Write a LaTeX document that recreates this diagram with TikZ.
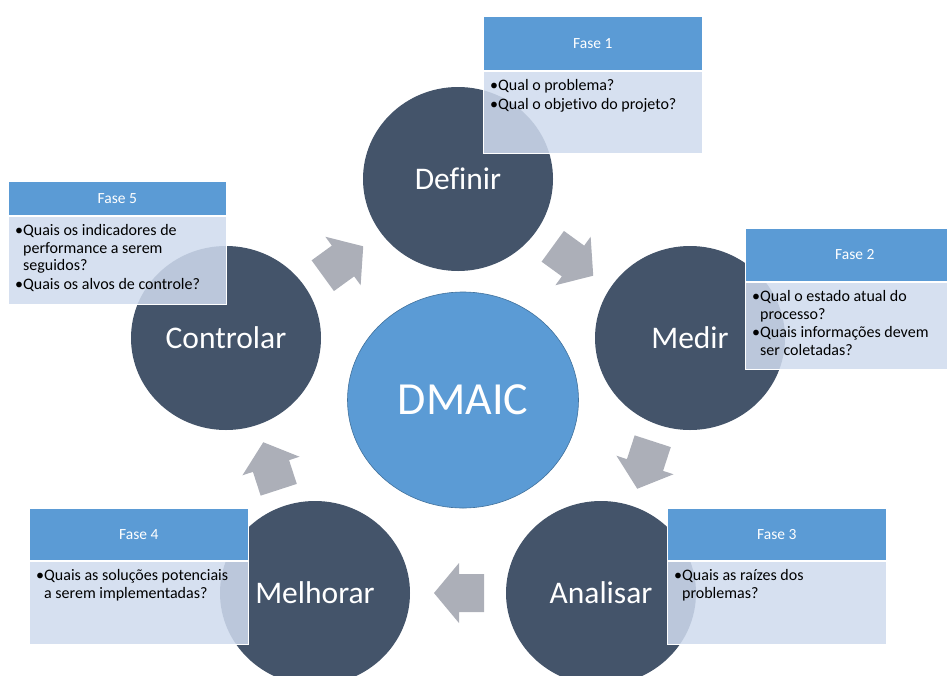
\documentclass[tikz,border=0pt]{standalone}
\usepackage{fontspec}
\setmainfont{Carlito}[Ligatures=NoCommon]
\usetikzlibrary{shapes.geometric,positioning}

\definecolor{phasedark}{RGB}{68,84,106}
\definecolor{accentblue}{RGB}{91,155,213}
\definecolor{accentedge}{RGB}{65,113,156}
\definecolor{notefill}{RGB}{207,219,238}
\definecolor{arrowgray}{RGB}{172,175,184}

\tikzset{
  phasecircle/.style={ellipse, fill=phasedark, text=white, minimum width=190pt,
    minimum height=184pt, inner sep=0pt, font=\fontsize{31.5}{36}\selectfont},
  corecircle/.style={ellipse, fill=accentblue, draw=accentedge, line width=0.6pt,
    text=white, minimum width=231pt, minimum height=216pt, inner sep=0pt,
    font=\fontsize{46}{52}\selectfont},
  notehead/.style={rectangle, fill=accentblue, draw=white, line width=0.6pt,
    text=white, anchor=north west, inner sep=0pt,
    font=\fontsize{15.5}{18}\selectfont},
  notebody/.style={rectangle, fill=notefill, fill opacity=0.86, draw=white,
    draw opacity=1, line width=0.6pt, anchor=north west, inner sep=0pt},
  notetext/.style={anchor=north west, align=left, inner sep=0pt, text=black,
    font=\fontsize{16}{17.5}\selectfont},
  blockarrow/.style={fill=arrowgray}
}

% bullet and its blank twin for continuation lines
\newcommand\bul{•}
\newcommand\cont{\hphantom{•}}

% one phase card: name, left, top, width, header height, body height, title, text
\newcommand\phasecard[8]{%
  \node[notehead, minimum width=#4pt, minimum height=#5pt] (h#1) at (#2,#3) {#7};
  \node[notebody, minimum width=#4pt, minimum height=#6pt] (b#1) at (h#1.south west) {};
  \node[notetext] (t#1) at ([xshift=7pt,yshift=-9pt]b#1.north west) {#8};
}

% block arrow centred on a named coordinate, turned by an angle
\newcommand\cyclearrow[2]{%
  \fill[blockarrow, shift={(#1)}, rotate=#2]
    (-25,-19) -- (0,-19) -- (0,-30) -- (25,0) -- (0,30) -- (0,19) -- (-25,19) -- cycle;
}

\begin{document}
\begin{tikzpicture}[x=1pt,y=-1pt]
\useasboundingbox (0,0) rectangle (947,675);

% the five phases
\node[phasecircle] (def) at (458,179) {Definir};
\node[phasecircle] (med) at (690,338) {Medir};
\node[phasecircle] (ana) at (601,593) {Analisar};
\node[phasecircle] (mel) at (315,593) {Melhorar};
\node[phasecircle] (con) at (226,338) {Controlar};

% arrows of the cycle
\coordinate (a1) at (343,261);
\coordinate (a2) at (573,261);
\coordinate (a3) at (645,465);
\coordinate (a4) at (459,593);
\coordinate (a5) at (271,466);
\cyclearrow{a1}{36}
\cyclearrow{a2}{-36}
\cyclearrow{a3}{-108}
\cyclearrow{a4}{180}
\cyclearrow{a5}{108}

% centre
\node[corecircle] (core) at (463,400) {DMAIC};

% phase cards
\phasecard{1}{483}{16}{219}{54}{82}{Fase 1}
  {\bul Qual o problema?\\[1pt]\bul Qual o objetivo do projeto?}
\phasecard{2}{745}{228}{219}{53}{87}{Fase 2}
  {\bul Qual o estado atual do\\\cont processo?\\[1pt]\bul Quais informações devem\\\cont ser coletadas?}
\phasecard{3}{667}{508}{219}{52}{83}{Fase 3}
  {\bul Quais as raízes dos\\\cont problemas?}
\phasecard{4}{29}{508}{219}{52}{83}{Fase 4}
  {\bul Quais as soluções potenciais\\\cont a serem implementadas?}
\phasecard{5}{8}{181}{218}{34}{88}{Fase 5}
  {\bul Quais os indicadores de\\\cont performance a serem\\\cont seguidos?\\[1pt]\bul Quais os alvos de controle?}
\end{tikzpicture}
\end{document}
